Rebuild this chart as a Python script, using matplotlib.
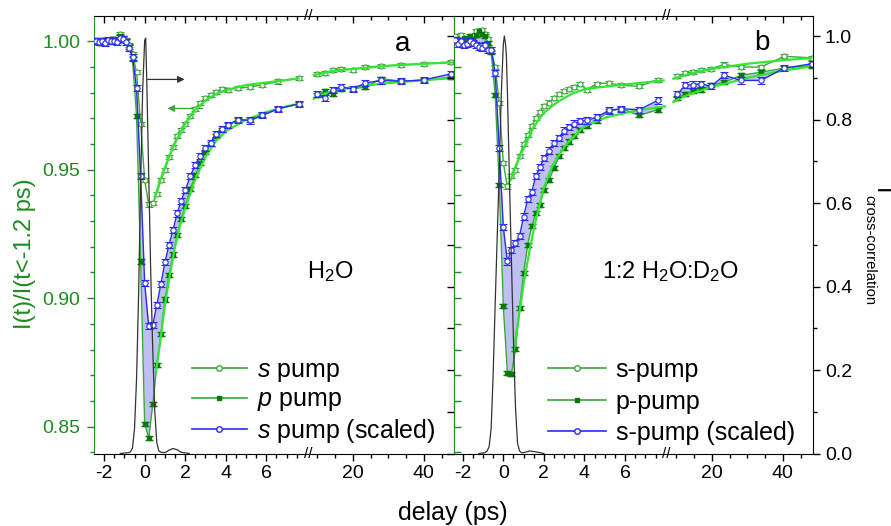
import numpy as np
import matplotlib
matplotlib.use('Agg')
import matplotlib.pyplot as plt
from matplotlib.lines import Line2D
from matplotlib.ticker import FixedLocator, MultipleLocator, FormatStrFormatter

plt.rcParams['font.family'] = ['Liberation Sans', 'DejaVu Sans']
plt.rcParams['mathtext.fontset'] = 'custom'
plt.rcParams['mathtext.rm'] = 'Liberation Sans'
plt.rcParams['mathtext.it'] = 'Liberation Sans:italic'
plt.rcParams['axes.unicode_minus'] = False

# ---- data ----
delay_a = [-2.4, -2.25, -2.1, -1.95, -1.8, -1.65, -1.5, -1.35, -1.2, -1.05, -0.9, -0.75, -0.6,
           -0.4, -0.2, 0.0, 0.2, 0.4, 0.6, 0.8, 1.0, 1.2, 1.4, 1.6, 1.8, 2.0, 2.25, 2.5, 2.75,
           3.0, 3.25, 3.5, 3.8, 4.1, 4.6, 5.2, 5.8, 6.6, 7.6,
           10.0, 12.0, 14.4, 16.7, 20.0, 23.5, 28.0, 33.6, 40.0, 47.7]
s_pump_a = [1.0000, 0.9995, 1.0005, 1.0000, 0.9998, 1.0008, 1.0010, 1.0005, 1.0027, 1.0010, 1.0005, 0.9985, 0.9950,
            0.9880, 0.9680, 0.9460, 0.9365, 0.9370, 0.9407, 0.9460, 0.9500, 0.9550, 0.9590,
            0.9630, 0.9655, 0.9680, 0.9710, 0.9737, 0.9760, 0.9780, 0.9792, 0.9804, 0.9815,
            0.9812, 0.9818, 0.9822, 0.9831, 0.9844, 0.9857,
            0.9874, 0.9878, 0.9887, 0.9894, 0.9890, 0.9900, 0.9904, 0.9909, 0.9913, 0.9920]
p_pump_a = [1.0005, 1.0000, 0.9995, 1.0005, 1.0000, 1.0002, 1.0008, 1.0000, 1.0020, 1.0012, 1.0000, 0.9980, 0.9930,
            0.9710, 0.9143, 0.8510, 0.8455, 0.8588, 0.8740, 0.8860, 0.8995, 0.9090, 0.9170,
            0.9245, 0.9310, 0.9360, 0.9425, 0.9478, 0.9525, 0.9570, 0.9600, 0.9630, 0.9655,
            0.9675, 0.9695, 0.9695, 0.9712, 0.9738, 0.9757,
            0.9792, 0.9806, 0.9794, 0.9816, 0.9816, 0.9822, 0.9855, 0.9845, 0.9848, 0.9861]
s_scaled_a = [1.0000, 0.9998, 1.0000, 0.9995, 1.0005, 1.0000, 1.0003, 0.9998, 1.0012, 1.0008, 0.9998, 0.9975, 0.9940,
              0.9818, 0.9477, 0.9058, 0.8890, 0.8896, 0.8975, 0.9055, 0.9140, 0.9208, 0.9266,
              0.9330, 0.9380, 0.9420, 0.9475, 0.9520, 0.9555, 0.9585, 0.9605, 0.9640, 0.9660,
              0.9673, 0.9695, 0.9692, 0.9712, 0.9738, 0.9757,
              0.9796, 0.9779, 0.9812, 0.9822, 0.9815, 0.9838, 0.9848, 0.9845, 0.9850, 0.9874]

delay_b = [-2.4, -2.25, -2.1, -1.95, -1.8, -1.65, -1.5, -1.35, -1.2, -1.05, -0.9, -0.75, -0.6,
           -0.4, -0.2, 0.0, 0.2, 0.4, 0.6, 0.8, 1.0, 1.2, 1.4, 1.6, 1.8, 2.0, 2.25, 2.5, 2.75,
           3.0, 3.25, 3.5, 3.8, 4.1, 4.6, 5.2, 5.8, 6.7, 7.6,
           10.3, 12.5, 14.6, 16.9, 19.8, 23.5, 28.2, 33.8, 40.4, 48.2]
s_pump_b = [1.0020, 1.0010, 1.0025, 1.0000, 1.0005, 1.0010, 1.0020, 1.0040, 1.0035, 1.0045, 1.0030, 1.0010, 0.9970,
            0.9900, 0.9760, 0.9526, 0.9435, 0.9475, 0.9500, 0.9555, 0.9600, 0.9635, 0.9670,
            0.9700, 0.9725, 0.9748, 0.9762, 0.9778, 0.9794, 0.9807, 0.9815, 0.9824, 0.9835,
            0.9812, 0.9835, 0.9838, 0.9829, 0.9825, 0.9851,
            0.9864, 0.9877, 0.9880, 0.9887, 0.9894, 0.9910, 0.9900, 0.9900, 0.9942, 0.9936]
p_pump_b = [1.0010, 1.0005, 0.9995, 1.0015, 1.0000, 1.0020, 1.0010, 1.0025, 1.0040, 1.0030, 1.0020, 0.9995, 0.9960,
            0.9792, 0.9442, 0.8970, 0.8710, 0.8705, 0.8801, 0.8961, 0.9097, 0.9208, 0.9280,
            0.9331, 0.9364, 0.9422, 0.9461, 0.9506, 0.9555, 0.9585, 0.9610, 0.9630, 0.9655,
            0.9670, 0.9692, 0.9728, 0.9738, 0.9712, 0.9734,
            0.9781, 0.9795, 0.9806, 0.9812, 0.9829, 0.9841, 0.9868, 0.9880, 0.9896, 0.9906]
s_scaled_b = [1.0005, 0.9990, 1.0000, 0.9985, 0.9990, 1.0000, 0.9995, 0.9985, 0.9980, 0.9975, 0.9985, 0.9968, 0.9968,
              0.9877, 0.9584, 0.9277, 0.9143, 0.9189, 0.9214, 0.9243, 0.9318, 0.9386, 0.9414,
              0.9475, 0.9510, 0.9545, 0.9575, 0.9605, 0.9625, 0.9653, 0.9668, 0.9680, 0.9690,
              0.9692, 0.9705, 0.9731, 0.9738, 0.9734, 0.9770,
              0.9794, 0.9829, 0.9832, 0.9835, 0.9825, 0.9868, 0.9848, 0.9848, 0.9896, 0.9913]

# fitted curves (bright green)
fit_s_t_a = [0.5, 0.75, 1.0, 1.25, 1.5, 2.0, 2.5, 3.0, 3.5, 4.0, 5.0, 6.0, 7.0, 7.6, 9.0, 12, 15, 20, 30, 40, 48]
fit_s_a = [0.9390, 0.9455, 0.9510, 0.9560, 0.9605, 0.9680, 0.9735, 0.9770, 0.9795, 0.9810, 0.9830, 0.9840,
           0.9850, 0.9856, 0.9868, 0.9878, 0.9886, 0.9893, 0.9905, 0.9913, 0.9918]
fit_p_t_a = [0.55, 0.75, 1.0, 1.25, 1.5, 1.75, 2.0, 2.5, 3.0, 3.5, 4.0, 5.0, 6.0, 7.0, 7.6, 9.0, 12, 15, 20, 30, 40, 48]
fit_p_a = [0.8710, 0.8820, 0.8975, 0.9095, 0.9200, 0.9285, 0.9350, 0.9465, 0.9550, 0.9610, 0.9650, 0.9695,
           0.9725, 0.9747, 0.9757, 0.9777, 0.9797, 0.9810, 0.9822, 0.9838, 0.9849, 0.9857]
fit_s_t_b = [0.35, 0.66, 1.07, 1.48, 1.97, 2.4, 2.79, 3.4, 3.94, 4.6, 5.6, 6.7, 7.9, 9.2, 12, 15, 20, 30, 40, 48]
fit_s_b = [0.9460, 0.9525, 0.9595, 0.9665, 0.9719, 0.9748, 0.9770, 0.9797, 0.9812, 0.9820, 0.9829, 0.9838,
           0.9848, 0.9855, 0.9866, 0.9878, 0.9893, 0.9913, 0.9927, 0.9935]
fit_p_t_b = [0.5, 0.75, 1.0, 1.3, 1.56, 1.97, 2.46, 3.12, 3.94, 5.09, 6.57, 7.97, 9.2, 12, 15, 20, 30, 40, 48]
fit_p_b = [0.8790, 0.8920, 0.9055, 0.9190, 0.9290, 0.9425, 0.9523, 0.9601, 0.9666, 0.9705, 0.9731, 0.9747,
           0.9764, 0.9785, 0.9800, 0.9822, 0.9858, 0.9886, 0.9903]

# cross-correlation traces (right axis)
cc_t_a = [-1.2, -0.8, -0.7, -0.6, -0.5, -0.4, -0.3, -0.2, -0.1, 0.0, 0.05, 0.1, 0.2, 0.3, 0.4, 0.5,
          0.6, 0.7, 0.8, 1.0, 1.2, 1.4, 1.6, 1.8, 2.2]
cc_a = [0.0, 0.002, 0.004, 0.014, 0.06, 0.18, 0.38, 0.645, 0.87, 0.99, 0.995, 0.90, 0.665, 0.43, 0.245,
        0.10, 0.025, 0.006, 0.003, 0.002, 0.008, 0.012, 0.009, 0.003, 0.0]
cc_t_b = [-1.2, -0.9, -0.8, -0.7, -0.6, -0.5, -0.4, -0.3, -0.2, -0.1, 0.0, 0.05, 0.1, 0.15, 0.2, 0.3,
          0.4, 0.5, 0.6, 0.7, 0.8, 0.9, 1.0, 1.3, 1.6, 2.0]
cc_b = [0.0, 0.002, 0.006, 0.016, 0.06, 0.19, 0.36, 0.52, 0.68, 0.86, 0.98, 1.0, 0.985, 0.955, 0.87,
        0.66, 0.46, 0.27, 0.11, 0.025, 0.006, 0.002, 0.002, 0.006, 0.004, 0.0]

err_green = 0.0008
err_blue = 0.0012

labels_a = ['$s$ pump', '$p$ pump', '$s$ pump (scaled)']
labels_b = ['s-pump', 'p-pump', 's-pump (scaled)']

x_major = [-2, 0, 2, 4, 6, 20, 40]
x_minor = [-1.5, -1, -0.5, 0.5, 1, 1.5, 2.5, 3, 3.5, 4.5, 5, 5.5, 6.5, 7, 7.5, 10, 15, 25, 30, 35, 45]

# colours
GREEN = '#3aa83a'
DKGREEN = '#0a780a'
LIME = '#33e633'
BLUE = '#2b2bf0'
FILL = '#bfbff3'
AXGREEN = '#1e8c1e'
GREY = '#333333'

# broken x axis: linear up to BRK, compressed afterwards
BRK, BRK0, RATIO = 8.05, 7.3, 0.175


def fwd(t):
    t = np.asarray(t, dtype=float)
    return np.where(t <= BRK, t, BRK + (t - BRK0) * RATIO)


def inv(p):
    p = np.asarray(p, dtype=float)
    return np.where(p <= BRK, p, BRK0 + (p - BRK) / RATIO)


def draw_data(ax, t, s, p, sc, fs_t, fs, fp_t, fp):
    t, s, p, sc = map(np.asarray, (t, s, p, sc))
    for seg in (t < BRK, t > BRK):
        ax.fill_between(t[seg], sc[seg], p[seg], color=FILL, lw=0, zorder=1)
        ax.errorbar(t[seg], s[seg], yerr=err_green, color=GREEN, lw=1, marker='o', ms=3.6,
                    mfc='white', mec=GREEN, mew=0.8, ecolor=GREEN, elinewidth=0.8, capsize=2.8, zorder=3)
        ax.errorbar(t[seg], p[seg], yerr=err_green, color=GREEN, lw=1, marker='s', ms=3,
                    mfc=DKGREEN, mec=DKGREEN, ecolor=DKGREEN, elinewidth=0.8, capsize=2.8, zorder=3)
    for ft, fv in ((fs_t, fs), (fp_t, fp)):
        ft, fv = np.asarray(ft), np.asarray(fv)
        for seg in (ft < BRK, ft > BRK):
            ax.plot(ft[seg], fv[seg], color=LIME, lw=1.6, zorder=3.5)
    for seg in (t < BRK, t > BRK):
        ax.errorbar(t[seg], sc[seg], yerr=err_blue, color=BLUE, lw=1, marker='o', ms=3.8,
                    mfc='white', mec=BLUE, mew=0.8, ecolor=BLUE, elinewidth=0.8, capsize=3, zorder=4)


def setup_panel(fig, rect, xlim):
    ax = fig.add_axes(rect)
    ax.set_xscale('function', functions=(fwd, inv))
    ax.set_xlim(*xlim)
    ax.set_ylim(0.8395, 1.0099)
    ax.xaxis.set_major_locator(FixedLocator(x_major))
    ax.xaxis.set_minor_locator(FixedLocator(x_minor))
    ax.yaxis.set_major_locator(MultipleLocator(0.05))
    ax.yaxis.set_minor_locator(MultipleLocator(0.01))
    ax.yaxis.set_major_formatter(FormatStrFormatter('%.2f'))
    return ax


def finish_panel(ax, cc_t, cc, right_labels):
    tw = ax.twinx()
    tw.plot(cc_t, cc, color=GREY, lw=0.9, zorder=2)
    tw.set_ylim(0, 1.048)
    tw.yaxis.set_major_locator(MultipleLocator(0.2))
    tw.yaxis.set_minor_locator(MultipleLocator(0.1))
    tw.yaxis.set_major_formatter(FormatStrFormatter('%.1f'))
    tw.tick_params(axis='y', which='both', direction='out' if right_labels else 'in',
                   labelright=right_labels, labelsize=14, colors='black', width=1)
    tw.tick_params(axis='y', which='major', length=5)
    tw.tick_params(axis='y', which='minor', length=3 if right_labels else 5)
    for side in ('left', 'top', 'bottom'):
        tw.spines[side].set_visible(False)

    ty = ax.twiny()
    ty.set_xscale('function', functions=(fwd, inv))
    ty.set_xlim(ax.get_xlim())
    ty.xaxis.set_major_locator(FixedLocator(x_major))
    ty.xaxis.set_minor_locator(FixedLocator(x_minor))
    ty.tick_params(axis='x', which='both', direction='in', top=True, bottom=False,
                   labeltop=False, labelbottom=False, width=1)
    ty.tick_params(axis='x', which='major', length=5)
    ty.tick_params(axis='x', which='minor', length=3)
    for side in ('left', 'right', 'bottom'):
        ty.spines[side].set_visible(False)

    ax.tick_params(axis='x', which='both', direction='out', top=False, labelsize=14, width=1, pad=3)
    ax.tick_params(axis='x', which='major', length=5)
    ax.tick_params(axis='x', which='minor', length=3)
    ax.spines['top'].set_visible(False)
    ax.spines['right'].set_visible(False)
    ax.spines['left'].set_color(AXGREEN)

    for yy in (0, 1):
        ax.text(BRK, yy, '//', transform=ax.get_xaxis_transform(), ha='center', va='center',
                fontsize=11, clip_on=False, zorder=6)
    return tw, ty


def legend_handles():
    return [Line2D([], [], color=GREEN, lw=1.2, marker='o', ms=4, mfc='white', mec=GREEN),
            Line2D([], [], color=GREEN, lw=1.2, marker='s', ms=3.5, mfc=DKGREEN, mec=DKGREEN),
            Line2D([], [], color=BLUE, lw=1.2, marker='o', ms=4, mfc='white', mec=BLUE)]


fig = plt.figure(figsize=(8.91, 5.26), dpi=100)
bottom, height = 72.5 / 526, 437.5 / 526

# ---- panel a ----
ax_a = setup_panel(fig, [94 / 891, bottom, 360 / 891, height], (-2.5, 48.5))
draw_data(ax_a, delay_a, s_pump_a, p_pump_a, s_scaled_a, fit_s_t_a, fit_s_a, fit_p_t_a, fit_p_a)
ax_a.annotate('', xy=(1.97, 0.9852), xytext=(0.15, 0.9852),
              arrowprops=dict(arrowstyle='-|>', color=GREY, lw=0.9, mutation_scale=10, shrinkA=0, shrinkB=0))
ax_a.annotate('', xy=(1.13, 0.9739), xytext=(2.86, 0.9739),
              arrowprops=dict(arrowstyle='-|>', color=GREEN, lw=0.9, mutation_scale=10, shrinkA=0, shrinkB=0))
ax_a.text(0.656, 0.400, 'H$_{\\mathregular{2}}$O', transform=ax_a.transAxes, ha='center', va='baseline', fontsize=17)
ax_a.text(0.858, 0.920, 'a', transform=ax_a.transAxes, ha='center', va='baseline', fontsize=20)
ax_a.legend(legend_handles(), labels_a, loc='lower left', bbox_to_anchor=(0.272, 0.019), frameon=False,
            fontsize=18, handlelength=2.2, handletextpad=0.4, labelspacing=0.15, borderpad=0,
            borderaxespad=0, numpoints=1)
tw_a, ty_a = finish_panel(ax_a, cc_t_a, cc_a, False)
ax_a.tick_params(axis='y', which='both', direction='out', colors=AXGREEN, labelsize=14, right=False, width=1, pad=5)
ax_a.tick_params(axis='y', which='major', length=5)
ax_a.tick_params(axis='y', which='minor', length=3)

# ---- panel b ----
ax_b = setup_panel(fig, [454 / 891, bottom, 359 / 891, height], (-2.43, 48.5))
draw_data(ax_b, delay_b, s_pump_b, p_pump_b, s_scaled_b, fit_s_t_b, fit_s_b, fit_p_t_b, fit_p_b)
ax_b.text(0.602, 0.400, '1:2 H$_{\\mathregular{2}}$O:D$_{\\mathregular{2}}$O', transform=ax_b.transAxes,
          ha='center', va='baseline', fontsize=17)
ax_b.text(0.857, 0.922, 'b', transform=ax_b.transAxes, ha='center', va='baseline', fontsize=20)
ax_b.legend(legend_handles(), labels_b, loc='lower left', bbox_to_anchor=(0.262, 0.019), frameon=False,
            fontsize=18, handlelength=2.3, handletextpad=0.4, labelspacing=0.3, borderpad=0,
            borderaxespad=0, numpoints=1)
tw_b, ty_b = finish_panel(ax_b, cc_t_b, cc_b, True)
ax_b.tick_params(axis='y', which='both', direction='in', colors=AXGREEN, labelleft=False, right=False, width=1)
ax_b.tick_params(axis='y', which='major', length=5)
ax_b.tick_params(axis='y', which='minor', length=5)

# ---- axis titles ----
fig.text(25 / 891, 1 - 254 / 526, 'I(t)/I(t<-1.2 ps)', rotation=90, ha='center', va='center',
         color=AXGREEN, fontsize=17)
fig.text(453 / 891, 1 - 513 / 526, 'delay (ps)', ha='center', va='center', fontsize=18)
fig.text(870 / 891, 1 - 191 / 526, 'I', rotation=-90, ha='left', va='center', fontsize=17)
fig.text(862.8 / 891, 1 - 195 / 526, 'cross-correlation', rotation=-90, ha='left', va='top', fontsize=10.7)

fig.savefig('out.png', dpi=100)
